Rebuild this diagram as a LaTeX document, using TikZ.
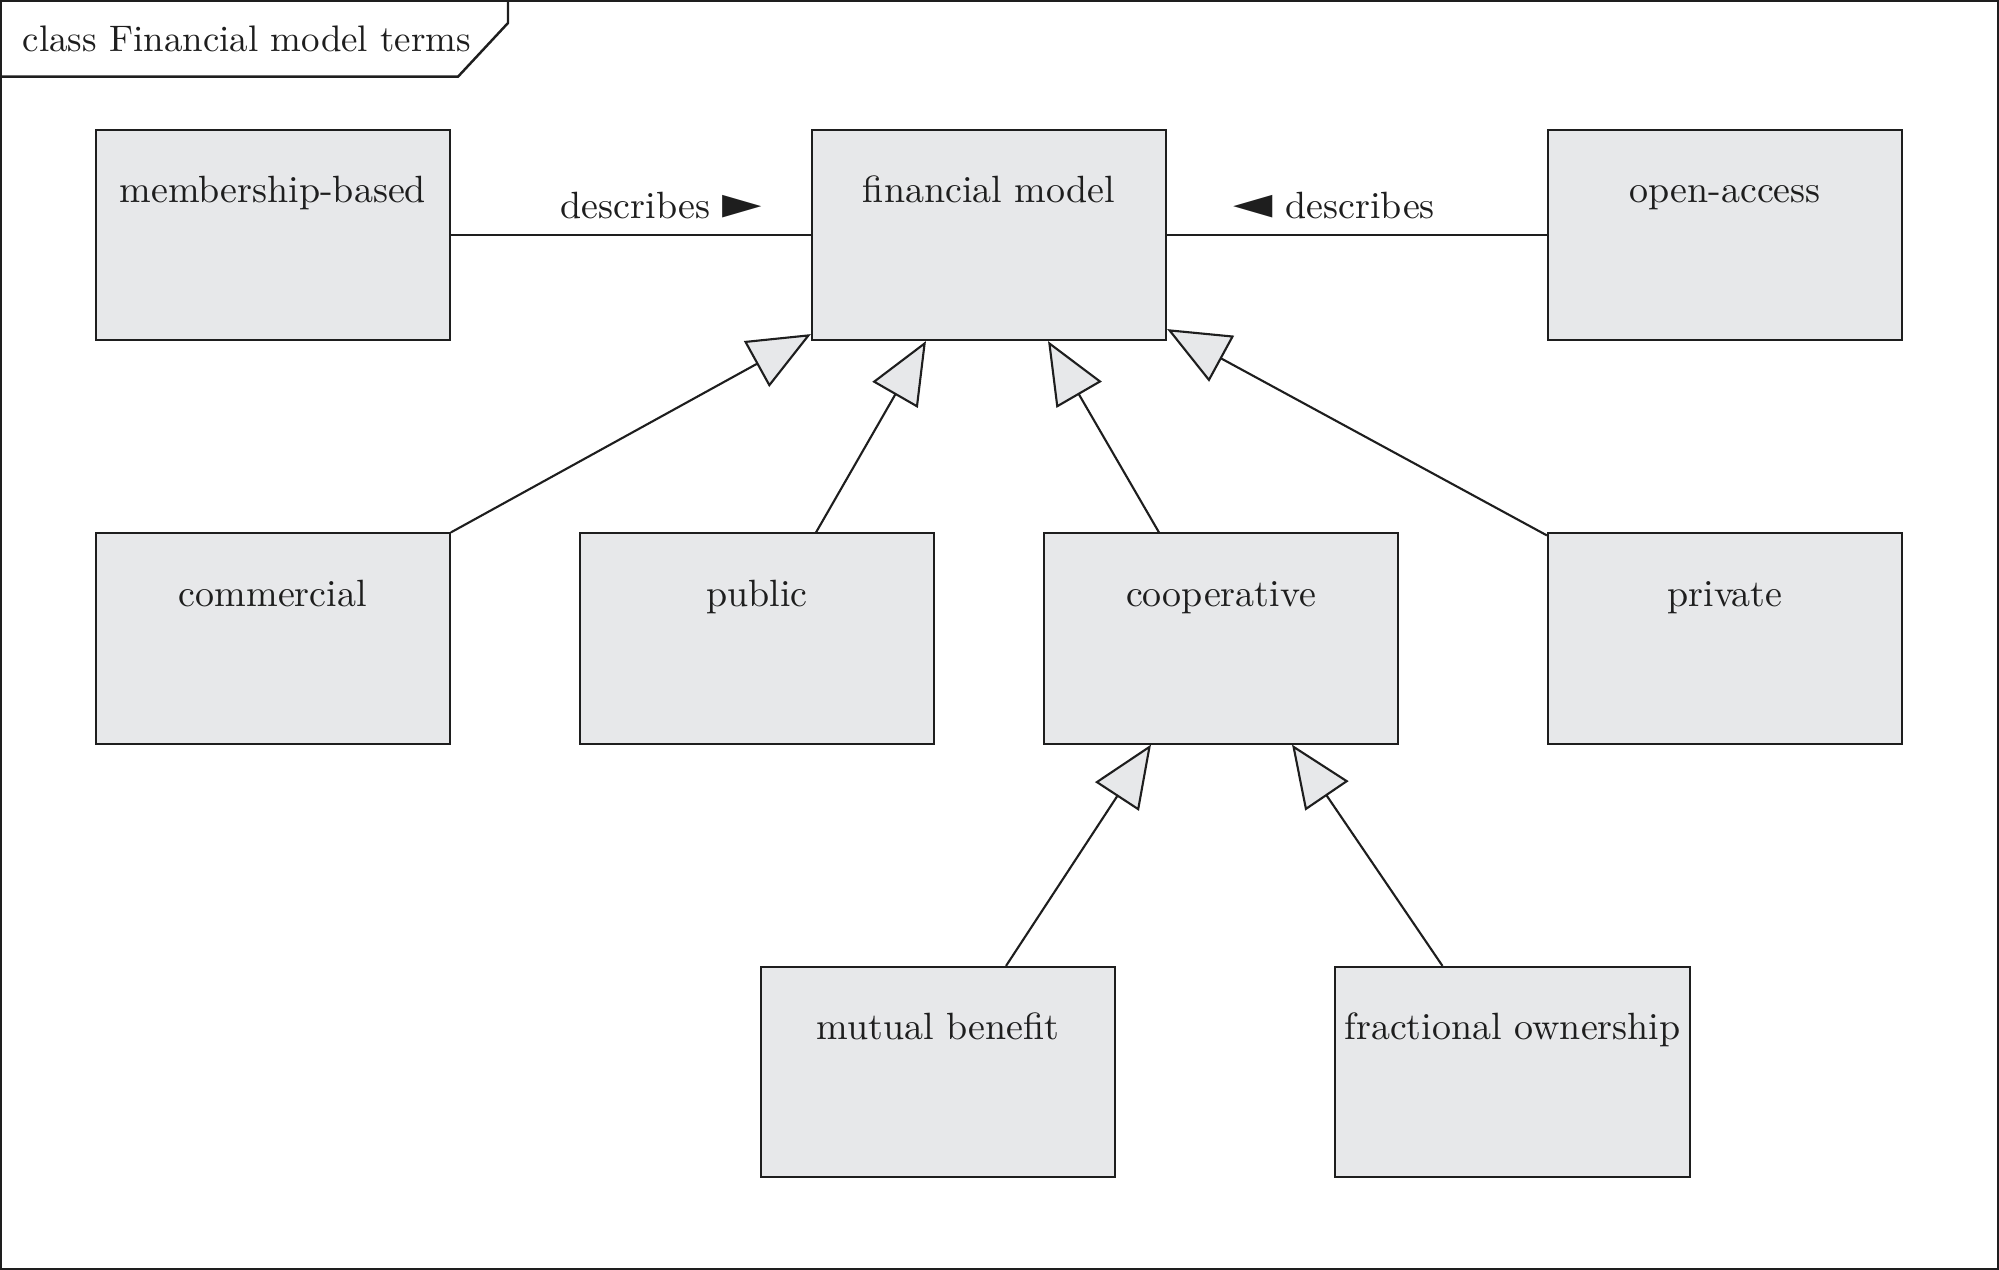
\documentclass[tikz,border=0pt]{standalone}
\usepackage{fontspec}
\newfontfamily\symfont{DejaVu Sans}
\usetikzlibrary{
  arrows.meta,
  positioning,
}
\definecolor{fm_gray}{RGB}{231,232,234}
\definecolor{fm_ink}{RGB}{30,30,30}
\newcommand{\rtri}{{\symfont\scalebox{1.35}[1.2]{►}}}
\newcommand{\ltri}{{\symfont\scalebox{1.35}[1.2]{◄}}}
\tikzset{
  >={Latex[width=1.5mm,length=1.5mm]},
  classbox/.style={draw=fm_ink, fill=fm_gray, line width=0.6pt,
    minimum width=3.54cm, inner xsep=0pt, inner ysep=0pt,
    text height=0.73cm, text depth=1.37cm, text=fm_ink,
    font=\fontsize{10.8}{13}\selectfont},
  gen/.style={-{Triangle[fill=fm_gray,length=6.2mm,width=5.2mm]},
    draw=fm_ink, line width=0.6pt},
  assoc/.style={draw=fm_ink, line width=0.6pt},
  lbl/.style={anchor=base, text=fm_ink, inner sep=0pt,
    font=\fontsize{10.8}{13}\selectfont},
}

\begin{document}
\begin{tikzpicture}[x=0.01cm, y=-0.01cm]
    \useasboundingbox (0,0) rectangle (1999,1270);
    % frame and its name tab
    \draw[fm_ink, line width=0.7pt] (1,1) rectangle (1998,1269);
    \draw[fm_ink, line width=0.7pt] (0,76.7) -- (458,76.7) -- (508,23) -- (508,0);
    \node[lbl, anchor=base west, font=\fontsize{10.5}{13}\selectfont] (title) at (22,51.7) {class Financial model terms};

    % the classes
    \foreach \name/\x/\y/\txt in {
        mem/272.8/235/membership-based,
        fm/989/235/financial model,
        oa/1725/235/open-access,
        com/272.8/638.5/commercial,
        pub/757/638.5/public,
        coop/1221/638.5/cooperative,
        priv/1725/638.5/private,
        mb/938/1072/mutual benefit,
        fo/1512.5/1072/fractional ownership} {
      \node[classbox] (\name) at (\x,\y) {\txt};
    }

    % associations
    \draw[assoc] (mem.east) -- node[lbl, pos=0.585, yshift=0.16cm] (descl) {describes \rtri} (fm.west);
    \draw[assoc] (oa.west) -- node[lbl, pos=0.56, yshift=0.16cm] (descr) {\ltri\ describes} (fm.east);

    % generalizations
    \draw[gen] (com.north east) -- ([yshift=0.07cm]fm.south west);
    \draw[gen] ([xshift=0.59cm]pub.north) -- ([xshift=-0.63cm]fm.south);
    \draw[gen] ([xshift=-0.62cm]coop.north) -- ([xshift=0.59cm]fm.south);
    \draw[gen] ([yshift=-0.03cm]priv.north west) -- ([yshift=0.12cm]fm.south east);
    \draw[gen] ([xshift=0.68cm]mb.north) -- ([xshift=-0.7cm]coop.south);
    \draw[gen] ([xshift=-0.7cm]fo.north) -- ([xshift=0.71cm]coop.south);
  \end{tikzpicture}
\end{document}
